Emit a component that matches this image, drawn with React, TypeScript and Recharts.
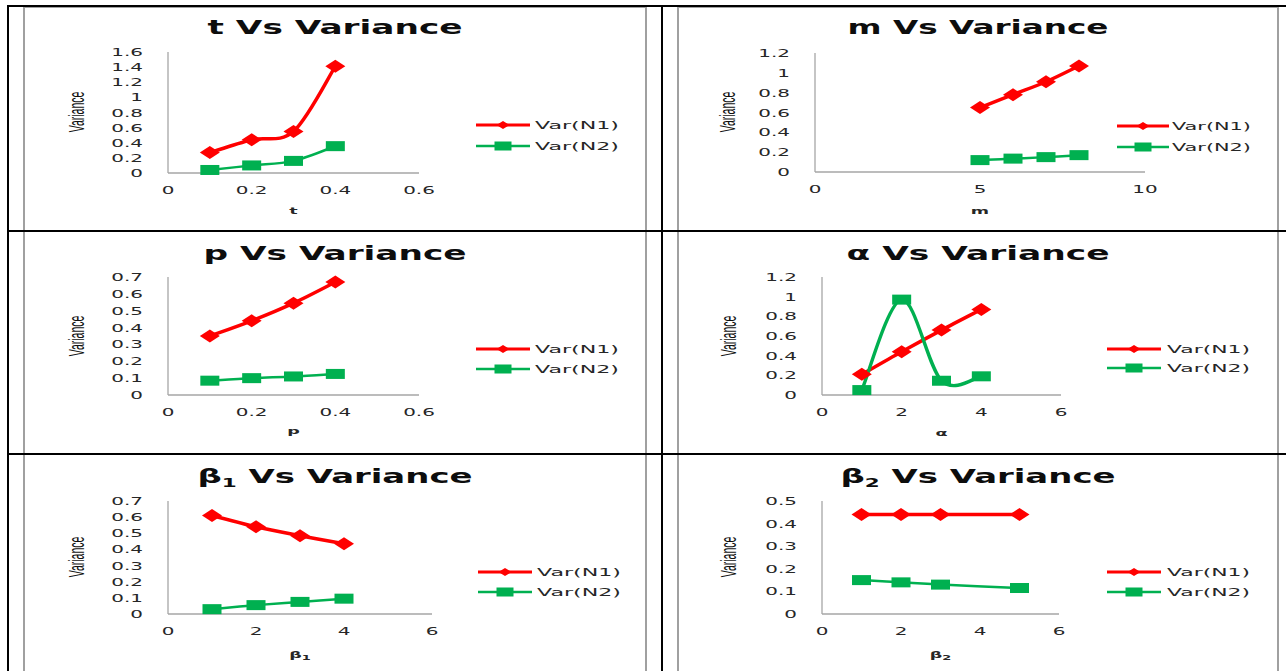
import React from 'react';
import { LineChart, Line, XAxis, YAxis, Legend, Customized } from 'recharts';

const RED = '#ff0000';
const GREEN = '#00b050';
const AXIS = '#a6a6a6';
const INK = '#262626';
const SX = 1.9; // the source picture is stretched sideways

// t Vs Variance
const tValues = [0.1, 0.2, 0.3, 0.4];
const tVarN1 = [0.27, 0.44, 0.55, 1.41];
const tVarN2 = [0.04, 0.1, 0.16, 0.355];
const tXTicks = [0, 0.2, 0.4, 0.6];
const tYTicks = [0, 0.2, 0.4, 0.6, 0.8, 1, 1.2, 1.4, 1.6];

// m Vs Variance
const mValues = [5, 6, 7, 8];
const mVarN1 = [0.65, 0.78, 0.91, 1.07];
const mVarN2 = [0.12, 0.135, 0.15, 0.17];
const mXTicks = [0, 5, 10];
const mYTicks = [0, 0.2, 0.4, 0.6, 0.8, 1, 1.2];

// p Vs Variance
const pValues = [0.1, 0.2, 0.3, 0.4];
const pVarN1 = [0.35, 0.44, 0.545, 0.67];
const pVarN2 = [0.085, 0.1, 0.11, 0.125];
const pXTicks = [0, 0.2, 0.4, 0.6];
const pYTicks = [0, 0.1, 0.2, 0.3, 0.4, 0.5, 0.6, 0.7];

// alpha Vs Variance
const alphaValues = [1, 2, 3, 4];
const alphaVarN1 = [0.21, 0.44, 0.66, 0.87];
const alphaVarN2 = [0.05, 0.97, 0.145, 0.19];
const alphaXTicks = [0, 2, 4, 6];
const alphaYTicks = [0, 0.2, 0.4, 0.6, 0.8, 1, 1.2];

// beta1 Vs Variance
const beta1Values = [1, 2, 3, 4];
const beta1VarN1 = [0.61, 0.54, 0.485, 0.435];
const beta1VarN2 = [0.03, 0.055, 0.075, 0.095];
const beta1XTicks = [0, 2, 4, 6];
const beta1YTicks = [0, 0.1, 0.2, 0.3, 0.4, 0.5, 0.6, 0.7];

// beta2 Vs Variance
const beta2Values = [1, 2, 3, 5];
const beta2VarN1 = [0.44, 0.44, 0.44, 0.44];
const beta2VarN2 = [0.15, 0.14, 0.13, 0.115];
const beta2XTicks = [0, 2, 4, 6];
const beta2YTicks = [0, 0.1, 0.2, 0.3, 0.4, 0.5];

const fmt = (v: number) => String(Number(v.toFixed(2)));

// excel style smoothed line (catmull-rom through the points)
function excelSmooth(context: any) {
  let pts: number[][] = [];
  return {
    areaStart() {},
    areaEnd() {},
    lineStart() {
      pts = [];
    },
    point(x: number, y: number) {
      pts.push([+x, +y]);
    },
    lineEnd() {
      if (!pts.length) return;
      context.moveTo(pts[0][0], pts[0][1]);
      for (let i = 0; i < pts.length - 1; i++) {
        const p0 = pts[i - 1] || pts[i];
        const p1 = pts[i];
        const p2 = pts[i + 1];
        const p3 = pts[i + 2] || p2;
        context.bezierCurveTo(
          p1[0] + (p2[0] - p0[0]) / 6,
          p1[1] + (p2[1] - p0[1]) / 6,
          p2[0] - (p3[0] - p1[0]) / 6,
          p2[1] - (p3[1] - p1[1]) / 6,
          p2[0],
          p2[1],
        );
      }
    },
  };
}

const diamondPts = (cx: number, cy: number, w: number, h: number) =>
  `${cx - w / 2},${cy} ${cx},${cy - h / 2} ${cx + w / 2},${cy} ${cx},${cy + h / 2}`;

const redDot = (props: any) => (
  <polygon key={`r${props.index}`} points={diamondPts(props.cx, props.cy, 20, 13)} fill={RED} />
);
const greenDot = (props: any) => (
  <rect key={`g${props.index}`} x={props.cx - 9.5} y={props.cy - 5} width={19} height={10} fill={GREEN} />
);

type Box = { l: number; r: number; t: number; b: number };
type Leg = { x1: number; x2: number; tx: number; tw: number; y1: number; y2: number };

interface PanelProps {
  left: number;
  top: number;
  width: number;
  height: number;
  sym: string;
  sub?: string;
  xs: number[];
  n1: number[];
  n2: number[];
  xTicks: number[];
  yTicks: number[];
  plot: Box;
  titleY: number;
  titleW: number;
  varX: number;
  varY: number;
  axisTitleY: number;
  legend: Leg;
  greenWidth?: number;
}

const LegendBox = ({ lg }: { lg: Leg }) => {
  const ox = lg.x1 - 12;
  const oy = lg.y1 - 14;
  const mid = (lg.x1 + lg.x2) / 2 - ox;
  return (
    <svg width={lg.tx + lg.tw - ox + 10} height={lg.y2 - oy + 14} style={{ display: 'block', overflow: 'visible' }}>
      <line x1={lg.x1 - ox} x2={lg.x2 - ox} y1={lg.y1 - oy} y2={lg.y1 - oy} stroke={RED} strokeWidth={3} />
      <polygon points={diamondPts(mid, lg.y1 - oy, 13, 8)} fill={RED} />
      <text x={lg.tx - ox} y={lg.y1 - oy + 4} textLength={lg.tw} lengthAdjust="spacingAndGlyphs"
        fontFamily="DejaVu Sans" fontSize={10.5} fill={INK}>Var(N1)</text>
      <line x1={lg.x1 - ox} x2={lg.x2 - ox} y1={lg.y2 - oy} y2={lg.y2 - oy} stroke={GREEN} strokeWidth={2.5} />
      <rect x={mid - 8.5} y={lg.y2 - oy - 4.5} width={17} height={9} fill={GREEN} />
      <text x={lg.tx - ox} y={lg.y2 - oy + 4} textLength={lg.tw} lengthAdjust="spacingAndGlyphs"
        fontFamily="DejaVu Sans" fontSize={10.5} fill={INK}>Var(N2)</text>
    </svg>
  );
};

const Panel = (p: PanelProps) => {
  const data = p.xs.map((x, i) => ({ x, n1: p.n1[i], n2: p.n2[i] }));
  const AXW = 30;
  const AXH = 30;
  const margin = {
    top: p.plot.t,
    left: p.plot.l - AXW,
    right: p.width - p.plot.r,
    bottom: p.height - p.plot.b - AXH,
  };
  const midX = (p.plot.l + p.plot.r) / 2;

  const YTick = (props: any) => (
    <text transform={`translate(${p.plot.l - 25},${props.y + 4}) scale(${SX},1)`} textAnchor="end"
      fontFamily="DejaVu Sans" fontSize={10.5} fill={INK}>{fmt(props.payload.value)}</text>
  );
  const XTick = (props: any) => (
    <text transform={`translate(${props.x},${p.plot.b + 21}) scale(${SX},1)`} textAnchor="middle"
      fontFamily="DejaVu Sans" fontSize={10.5} fill={INK}>{fmt(props.payload.value)}</text>
  );

  const Labels = () => (
    <g>
      <text x={p.width / 2} y={p.titleY} textAnchor="middle" textLength={p.titleW} lengthAdjust="spacingAndGlyphs"
        fontFamily="DejaVu Sans" fontWeight="bold" fontSize={19} fill="#0d0d0d">
        {p.sym}
        {p.sub ? <tspan fontSize={12} dy={4}>{p.sub}</tspan> : null}
        <tspan dy={p.sub ? -4 : 0}> Vs Variance</tspan>
      </text>
      <text transform={`translate(${p.varX},${p.varY}) scale(2.1,1) rotate(-90)`} textAnchor="middle" dy="0.36em"
        fontFamily="Liberation Sans" fontSize={10.5} fill="#111">Variance</text>
      <text transform={`translate(${midX},${p.axisTitleY}) scale(1.85,1)`} textAnchor="middle"
        fontFamily="DejaVu Sans" fontWeight="bold" fontSize={9.5} fill={INK}>
        {p.sym}
        {p.sub ? <tspan fontSize={7} dy={2}>{p.sub}</tspan> : null}
      </text>
    </g>
  );

  return (
    <div style={{ position: 'absolute', left: p.left, top: p.top, width: p.width, height: p.height }}>
      <LineChart width={p.width} height={p.height} data={data} margin={margin}>
        <XAxis dataKey="x" type="number" domain={[0, p.xTicks[p.xTicks.length - 1]]} ticks={p.xTicks}
          interval={0} height={AXH} tickLine={false} tickSize={0} tickMargin={0}
          axisLine={{ stroke: AXIS, strokeWidth: 1.3 }} tick={XTick} />
        <YAxis type="number" domain={[0, p.yTicks[p.yTicks.length - 1]]} ticks={p.yTicks}
          interval={0} width={AXW} tickLine={false} tickSize={0} tickMargin={0}
          axisLine={{ stroke: AXIS, strokeWidth: 1.3 }} tick={YTick} />
        <Line dataKey="n1" type={excelSmooth as any} stroke={RED} strokeWidth={3.5} dot={redDot}
          activeDot={false} isAnimationActive={false} />
        <Line dataKey="n2" type={excelSmooth as any} stroke={GREEN} strokeWidth={p.greenWidth || 2.5} dot={greenDot}
          activeDot={false} isAnimationActive={false} />
        <Legend layout="vertical" align="center" verticalAlign="middle"
          wrapperStyle={{ left: p.legend.x1 - 12, top: p.legend.y1 - 14, width: 'auto', height: 'auto' }}
          content={() => <LegendBox lg={p.legend} />} />
        <Customized component={Labels} />
      </LineChart>
    </div>
  );
};

const leftLegend = (y1: number, y2: number, shift = 0): Leg => ({ x1: 452 + shift, x2: 506 + shift, tx: 511 + shift, tw: 84, y1, y2 });
const rightLegend = (y1: number, y2: number): Leg => ({ x1: 429, x2: 483, tx: 489, tw: 83, y1, y2 });

const panels: PanelProps[] = [
  {
    left: 24, top: 7, width: 622, height: 223, sym: 't',
    xs: tValues, n1: tVarN1, n2: tVarN2, xTicks: tXTicks, yTicks: tYTicks,
    plot: { l: 144, r: 395, t: 45, b: 166 }, titleY: 27, titleW: 255,
    varX: 52, varY: 105, axisTitleY: 207, legend: leftLegend(118, 139),
  },
  {
    left: 678, top: 7, width: 600, height: 223, sym: 'm',
    xs: mValues, n1: mVarN1, n2: mVarN2, xTicks: mXTicks, yTicks: mYTicks,
    plot: { l: 137, r: 467, t: 46, b: 165 }, titleY: 27, titleW: 261,
    varX: 49, varY: 105, axisTitleY: 207,
    legend: { x1: 439, x2: 491, tx: 494, tw: 79, y1: 119, y2: 140 },
  },
  {
    left: 24, top: 232, width: 622, height: 221, sym: 'p',
    xs: pValues, n1: pVarN1, n2: pVarN2, xTicks: pXTicks, yTicks: pYTicks,
    plot: { l: 144, r: 395, t: 45, b: 163 }, titleY: 27.5, titleW: 263,
    varX: 52, varY: 104, axisTitleY: 202, legend: leftLegend(117, 137),
  },
  {
    left: 678, top: 232, width: 600, height: 221, sym: 'α',
    xs: alphaValues, n1: alphaVarN1, n2: alphaVarN2, xTicks: alphaXTicks, yTicks: alphaYTicks,
    plot: { l: 144, r: 383, t: 45, b: 163 }, titleY: 27.5, titleW: 263,
    varX: 50, varY: 104, axisTitleY: 204, legend: rightLegend(117, 136), greenWidth: 3.4,
  },
  {
    left: 24, top: 455, width: 622, height: 216, sym: 'β', sub: '1',
    xs: beta1Values, n1: beta1VarN1, n2: beta1VarN2, xTicks: beta1XTicks, yTicks: beta1YTicks,
    plot: { l: 144, r: 408, t: 46, b: 159 }, titleY: 28, titleW: 275,
    varX: 52, varY: 102, axisTitleY: 203, legend: leftLegend(117, 137, 2),
  },
  {
    left: 678, top: 455, width: 600, height: 216, sym: 'β', sub: '2',
    xs: beta2Values, n1: beta2VarN1, n2: beta2VarN2, xTicks: beta2XTicks, yTicks: beta2YTicks,
    plot: { l: 144, r: 381, t: 46, b: 159 }, titleY: 28, titleW: 275,
    varX: 50, varY: 102, axisTitleY: 203, legend: rightLegend(117, 137),
  },
];

const black = (left: number, top: number, width: number, height: number) => (
  <div key={`b${left}-${top}`} style={{ position: 'absolute', left, top, width, height, background: '#000' }} />
);

const frame = (left: number, top: number, width: number, height: number) => (
  <div key={`f${left}-${top}`} style={{
    position: 'absolute', left, top, width, height, boxSizing: 'border-box',
    border: '2px solid #a0a0a0',
  }} />
);

export default function App() {
  return (
    <div style={{ position: 'absolute', left: 0, top: 0, width: 1286, height: 671, overflow: 'hidden', background: '#fff' }}>
      {panels.map((p) => <Panel key={`${p.sym}${p.sub || ''}`} {...p} />)}
      {frame(23, 6, 624, 226)}
      {frame(677, 6, 602, 226)}
      {frame(23, 230, 624, 225)}
      {frame(677, 230, 602, 225)}
      {frame(23, 453, 624, 230)}
      {frame(677, 453, 602, 230)}
      {black(7, 5, 1290, 2)}
      {black(7, 230, 1290, 2)}
      {black(7, 453, 1290, 2)}
      {black(7, 5, 2, 680)}
      {black(661, 5, 2, 680)}
    </div>
  );
}
